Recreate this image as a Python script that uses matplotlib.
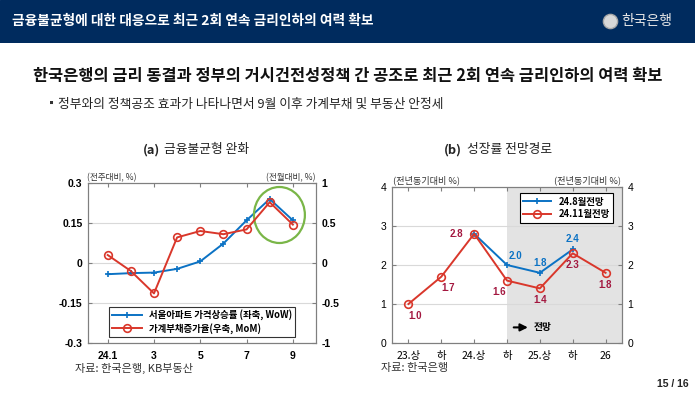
import matplotlib
matplotlib.use("Agg")
import matplotlib.pyplot as plt
from matplotlib.patches import Ellipse, Rectangle

plt.rcParams['font.family'] = ['Noto Sans CJK KR', 'DejaVu Sans']

# --- data: (a) ---
months = [1, 2, 3, 4, 5, 6, 7, 8, 9]
month_ticks = [1, 3, 5, 7, 9]
month_labels = ['24.1', '3', '5', '7', '9']
seoul_apt = [-0.042, -0.038, -0.036, -0.022, 0.006, 0.073, 0.160, 0.240, 0.160]
hh_debt = [0.10, -0.10, -0.38, 0.32, 0.40, 0.36, 0.42, 0.76, 0.48]

# --- data: (b) ---
periods = ['23.상', '하', '24.상', '하', '25.상', '하', '26']
aug_idx = [2, 3, 4, 5]
aug_vals = [2.8, 2.0, 1.8, 2.4]
nov_idx = [0, 1, 2, 3, 4, 5, 6]
nov_vals = [1.0, 1.7, 2.8, 1.6, 1.4, 2.3, 1.8]

BLUE = '#0B72C4'
RED = '#D9372B'
CRIMSON = '#A3173F'
NAVY = '#002B5E'
GRID = '#D9D9D9'
SPINE = '#7F7F7F'
NUMF = ['Liberation Sans', 'DejaVu Sans']

fig = plt.figure(figsize=(6.95, 3.95), dpi=100)

# header band
hdr = fig.add_axes([0, 1 - 43 / 395, 1, 43 / 395])
hdr.set_xlim(0, 1)
hdr.set_ylim(0, 1)
hdr.axis('off')
hdr.add_patch(Rectangle((0, 0), 1, 1, color=NAVY))
hdr.text(12 / 695, 0.52, '금융불균형에 대한 대응으로 최근 2회 연속 금리인하의 여력 확보',
         color='white', fontsize=9.9, fontweight='bold', va='center')
hdr.scatter([610 / 695], [0.52], s=105, color='#D8D8D8', edgecolors='#A8A8A8', zorder=3)
hdr.text(621 / 695, 0.52, '한국은행', color='#E8E8E8', fontsize=10, va='center')

fig.text(33 / 695, 1 - 76 / 395, '한국은행의 금리 동결과 정부의 거시건전성정책 간 공조로 최근 2회 연속 금리인하의 여력 확보',
         fontsize=11.8, fontweight='bold', va='center', color='#111111')
fig.text(46 / 695, 1 - 104 / 395, '▪', fontsize=8, va='center', color='#333333')
fig.text(58 / 695, 1 - 104 / 395, '정부와의 정책공조 효과가 나타나면서 9월 이후 가계부채 및 부동산 안정세',
         fontsize=9.2, va='center', color='#222222')

# ---------- (a) ----------
ax1 = fig.add_axes([88 / 695, 1 - 343 / 395, 228 / 695, 160 / 395])
ax1.set_xlim(0.15, 10)
ax1.set_ylim(-0.3, 0.3)
ax1.set_yticks([-0.3, -0.15, 0, 0.15, 0.3])
ax1.set_yticklabels(['-0.3', '-0.15', '0', '0.15', '0.3'])
ax1.set_xticks(month_ticks)
ax1.set_xticklabels(month_labels)
ax1.grid(axis='y', color=GRID, lw=0.8)
ax1.set_axisbelow(True)
ax1r = ax1.twinx()
ax1r.set_ylim(-1, 1)
ax1r.set_yticks([-1, -0.5, 0, 0.5, 1])
ax1r.set_yticklabels(['-1', '-0.5', '0', '0.5', '1'])

l1, = ax1.plot(months, seoul_apt, color=BLUE, lw=1.4, marker='+', ms=5, mew=1.2,
               label='서울아파트 가격상승률 (좌축, WoW)')
l2, = ax1r.plot(months, hh_debt, color=RED, lw=1.4, marker='o', ms=5.5, mfc='none', mew=1.2,
                label='가계부채증가율(우축, MoM)')
ax1.add_patch(Ellipse((8.42, 0.18), 2.2, 0.21, fill=False, ec='#7AB648', lw=1.6, zorder=5))

for a in (ax1, ax1r):
    for s in a.spines.values():
        s.set_color(SPINE)
    a.tick_params(direction='in', length=3, color=SPINE, labelsize=7.5, pad=4)
ax1.tick_params(axis='x', top=True, pad=6)
for lab in ax1.get_xticklabels() + ax1.get_yticklabels() + ax1r.get_yticklabels():
    lab.set_fontweight('bold')
    lab.set_family(NUMF)

leg1 = ax1.legend(handles=[l1, l2], loc='lower center', bbox_to_anchor=(0.5, 0.04),
                  fontsize=6.8, frameon=True, fancybox=False, edgecolor='black',
                  borderpad=0.3, handlelength=3.2, labelspacing=0.25, borderaxespad=0)
leg1.get_frame().set_linewidth(0.8)
for t in leg1.get_texts():
    t.set_fontweight('bold')

fig.text(160 / 695, 1 - 150 / 395, '(a)', fontsize=9.2, fontweight='bold', ha='right', va='center', color='#222222')
fig.text(164 / 695, 1 - 150 / 395, '금융불균형 완화', fontsize=9.2, ha='left', va='center', color='#222222')
fig.text(87 / 695, 1 - 178 / 395, '(전주대비, %)', fontsize=6.2, va='center', color='#333333')
fig.text(316 / 695, 1 - 178 / 395, '(전월대비, %)', fontsize=6.2, ha='right', va='center', color='#333333')
fig.text(75 / 695, 1 - 368 / 395, '자료: 한국은행, KB부동산', fontsize=8, va='center', color='#333333')

# ---------- (b) ----------
ax2 = fig.add_axes([392 / 695, 1 - 343 / 395, 230 / 695, 156 / 395])
ax2.set_xlim(-0.5, 6.5)
ax2.set_ylim(0, 4)
ax2.set_yticks([0, 1, 2, 3, 4])
ax2.set_xticks(range(len(periods)))
ax2.set_xticklabels(periods)
ax2.grid(axis='y', color=GRID, lw=0.8)
ax2.set_axisbelow(True)
ax2.axvspan(3, 6.5, color='#E3E3E3', zorder=0, lw=0)
ax2r = ax2.twinx()
ax2r.set_ylim(0, 4)
ax2r.set_yticks([0, 1, 2, 3, 4])

b1, = ax2.plot(aug_idx, aug_vals, color=BLUE, lw=1.4, marker='+', ms=5, mew=1.2, label='24.8월전망')
b2, = ax2.plot(nov_idx, nov_vals, color=RED, lw=1.4, marker='o', ms=5.5, mfc='none', mew=1.2,
               label='24.11월전망')

nov_off = [(0.2, -0.3), (0.2, -0.3), (-0.55, 0.0), (-0.25, -0.3), (0.0, -0.3), (0.0, -0.3), (0.0, -0.3)]
for i, v, (dx, dy) in zip(nov_idx, nov_vals, nov_off):
    ax2.text(i + dx, v + dy, f'{v:.1f}', color=CRIMSON, fontsize=7, fontweight='bold',
             ha='center', va='center', family=NUMF)
aug_off = [None, (0.27, 0.22), (0.0, 0.24), (0.0, 0.27)]
for i, v, off in zip(aug_idx, aug_vals, aug_off):
    if off is None:
        continue
    ax2.text(i + off[0], v + off[1], f'{v:.1f}', color=BLUE, fontsize=7, fontweight='bold',
             ha='center', va='center', family=NUMF)

ax2.annotate('', xy=(3.72, 0.4), xytext=(3.12, 0.4),
             arrowprops=dict(arrowstyle='-|>', color='black', lw=1.5, mutation_scale=11))
ax2.text(3.82, 0.4, '전망', fontsize=7, fontweight='bold', va='center')

for a in (ax2, ax2r):
    for s in a.spines.values():
        s.set_color(SPINE)
    a.tick_params(direction='in', length=3, color=SPINE, labelsize=7.5, pad=4)
ax2.tick_params(axis='x', top=True, pad=6)
for lab in ax2.get_yticklabels() + ax2r.get_yticklabels():
    lab.set_family(NUMF)

leg2 = ax2.legend(handles=[b1, b2], loc='upper right', bbox_to_anchor=(0.96, 0.96),
                  fontsize=6.8, frameon=True, fancybox=False, edgecolor='black',
                  borderpad=0.35, handlelength=2.9, labelspacing=0.3, borderaxespad=0,
                  facecolor='white', framealpha=1)
leg2.get_frame().set_linewidth(0.8)
for t in leg2.get_texts():
    t.set_fontweight('bold')

fig.text(462 / 695, 1 - 150 / 395, '(b)', fontsize=9.2, fontweight='bold', ha='right', va='center', color='#222222')
fig.text(467 / 695, 1 - 150 / 395, '성장률 전망경로', fontsize=9.2, ha='left', va='center', color='#222222')
fig.text(393 / 695, 1 - 180 / 395, '(전년동기대비 %)', fontsize=6.6, va='center', color='#333333')
fig.text(621 / 695, 1 - 180 / 395, '(전년동기대비 %)', fontsize=6.6, ha='right', va='center', color='#333333')
fig.text(381 / 695, 1 - 368 / 395, '자료: 한국은행', fontsize=8, va='center', color='#333333')

fig.text(689 / 695, 1 - 384 / 395, '15 / 16', fontsize=7.5, fontweight='bold', ha='right', va='center',
         color='#222222', family=NUMF)

fig.savefig('out.png', dpi=100)
